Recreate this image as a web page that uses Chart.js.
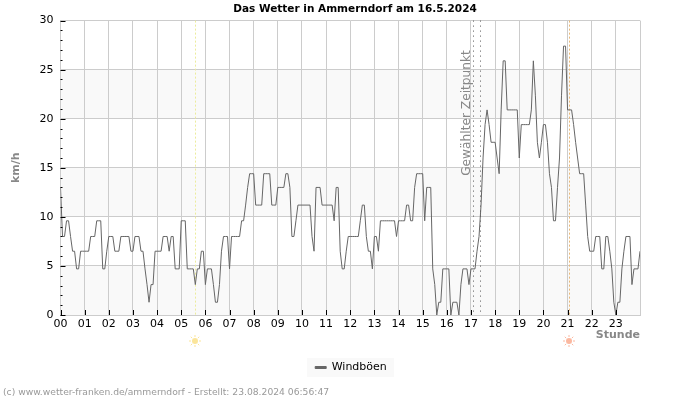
<!DOCTYPE html>
<html>
<head>
<meta charset="utf-8">
<style>
  html, body { margin: 0; padding: 0; background: #fff; }
  #wrap { width: 700px; height: 400px; }
</style>
<script src="https://cdn.jsdelivr.net/npm/chart.js@4"></script>
</head>
<body>
<div id="wrap"><canvas id="chart" width="700" height="400"></canvas></div>
<script>
const hourLabels = ["00","01","02","03","04","05","06","07","08","09","10","11","12","13","14","15","16","17","18","19","20","21","22","23"];
const yTicks = [0, 5, 10, 15, 20, 25, 30];

// gusts in km/h, one value every 5 minutes, one row per hour
const gusts = [
  13, 8, 8, 9.6, 9.6, 8, 6.5, 6.5, 4.7, 4.7, 6.5, 6.5,
  6.5, 6.5, 6.5, 8, 8, 8, 9.6, 9.6, 9.6, 4.7, 4.7, 6.5,
  8, 8, 8, 6.5, 6.5, 6.5, 8, 8, 8, 8, 8, 6.5,
  6.5, 8, 8, 8, 6.5, 6.5, 4.7, 3.1, 1.3, 3.1, 3.1, 6.5,
  6.5, 6.5, 6.5, 8, 8, 8, 6.5, 8, 8, 4.7, 4.7, 4.7,
  9.6, 9.6, 9.6, 4.7, 4.7, 4.7, 4.7, 3.1, 4.7, 4.7, 6.5, 6.5,
  3.1, 4.7, 4.7, 4.7, 3.1, 1.3, 1.3, 3.1, 6.5, 8, 8, 8,
  4.7, 8, 8, 8, 8, 8, 9.6, 9.6, 11.2, 13, 14.4, 14.4,
  14.4, 11.2, 11.2, 11.2, 11.2, 14.4, 14.4, 14.4, 14.4, 11.2, 11.2, 11.2,
  13, 13, 13, 13, 14.4, 14.4, 13, 8, 8, 9.6, 11.2, 11.2,
  11.2, 11.2, 11.2, 11.2, 11.2, 8, 6.5, 13, 13, 13, 11.2, 11.2,
  11.2, 11.2, 11.2, 11.2, 9.6, 13, 13, 6.5, 4.7, 4.7, 6.5, 8,
  8, 8, 8, 8, 8, 9.6, 11.2, 11.2, 8, 6.5, 6.5, 4.7,
  8, 8, 6.5, 9.6, 9.6, 9.6, 9.6, 9.6, 9.6, 9.6, 9.6, 8,
  9.6, 9.6, 9.6, 9.6, 11.2, 11.2, 9.6, 9.6, 13, 14.4, 14.4, 14.4,
  14.4, 9.6, 13, 13, 13, 4.7, 3.1, 0, 1.3, 1.3, 4.7, 4.7,
  4.7, 4.7, 0, 1.3, 1.3, 1.3, 0, 3.1, 4.7, 4.7, 4.7, 3.1,
  4.7, 4.7, 4.7, 6.5, 8, 11.2, 16, 19.4, 20.9, 19.4, 17.6, 17.6,
  17.6, 16, 14.4, 20.9, 25.9, 25.9, 20.9, 20.9, 20.9, 20.9, 20.9, 20.9,
  16, 19.4, 19.4, 19.4, 19.4, 19.4, 20.9, 25.9, 22.4, 17.6, 16, 17.6,
  19.4, 19.4, 17.6, 14.4, 13, 9.6, 9.6, 13, 16, 22.4, 27.4, 27.4,
  20.9, 20.9, 20.9, 19.4, 17.6, 16, 14.4, 14.4, 14.4, 11.2, 8, 6.5,
  6.5, 6.5, 8, 8, 8, 4.7, 4.7, 8, 8, 6.5, 4.7, 1.3,
  0, 1.3, 1.3, 4.7, 6.5, 8, 8, 8, 3.1, 4.7, 4.7, 4.7,
  6.5
];

const sunrise = 5.57;
const sunset = 21.06;
const selectedTimes = [17.1, 17.37];
const shadedBands = [[0, 5], [10, 15], [20, 25]];
const fontName = "'DejaVu Sans'";

function drawSun(ctx, x, y, color) {
  ctx.save();
  ctx.strokeStyle = color;
  ctx.fillStyle = color;
  ctx.lineWidth = 1;
  ctx.beginPath();
  ctx.arc(x, y, 3, 0, Math.PI * 2);
  ctx.fill();
  for (let a = 0; a < 8; a++) {
    let r = a * Math.PI / 4;
    ctx.beginPath();
    ctx.moveTo(x + Math.cos(r) * 4, y + Math.sin(r) * 4);
    ctx.lineTo(x + Math.cos(r) * 6, y + Math.sin(r) * 6);
    ctx.stroke();
  }
  ctx.restore();
}

function vline(ctx, x, top, bottom, color, dash) {
  ctx.save();
  ctx.strokeStyle = color;
  ctx.lineWidth = 1;
  ctx.setLineDash(dash);
  ctx.beginPath();
  ctx.moveTo(Math.round(x) + 0.5, top);
  ctx.lineTo(Math.round(x) + 0.5, bottom);
  ctx.stroke();
  ctx.restore();
}

const backdrop = {
  id: "backdrop",
  afterLayout(chart) {
    // legend row sits a bit too far right because of its big padding
    chart.legend.left -= 8;
  },
  beforeDraw(chart) {
    const { ctx, scales: { y }, chartArea: a } = chart;
    ctx.save();
    ctx.fillStyle = "#f9f9f9";
    ctx.fillRect(307, 358, 87, 19);
    shadedBands.forEach(b => {
      let top = y.getPixelForValue(b[1]);
      ctx.fillRect(a.left, top, a.right - a.left, y.getPixelForValue(b[0]) - top);
    });
    ctx.restore();
  },
  beforeDatasetsDraw(chart) {
    const { ctx, scales: { x }, chartArea: a } = chart;
    vline(ctx, x.getPixelForValue(sunrise), a.top, a.bottom, "#ecec9c", [2, 2]);
    vline(ctx, x.getPixelForValue(sunset), a.top, a.bottom, "#e8b878", [2, 2]);
  },
  afterDatasetsDraw(chart) {
    const { ctx, scales: { x, y }, chartArea: a } = chart;
    selectedTimes.forEach(t => vline(ctx, x.getPixelForValue(t), a.top, a.bottom, "#555", [1, 4]));

    ctx.save();
    ctx.translate(x.getPixelForValue(selectedTimes[0]) - 6.5, 113);
    ctx.rotate(-Math.PI / 2);
    ctx.fillStyle = "#888";
    ctx.font = "12.2px " + fontName;
    ctx.textAlign = "center";
    ctx.textBaseline = "middle";
    ctx.fillText("Gewählter Zeitpunkt", 0, 0);
    ctx.restore();

    // short ticks pointing into the plot
    ctx.save();
    ctx.strokeStyle = "#000";
    ctx.lineWidth = 1;
    ctx.beginPath();
    for (let v = 0; v <= 30; v++) {
      let py = Math.round(y.getPixelForValue(v)) + 0.5;
      ctx.moveTo(a.left, py);
      ctx.lineTo(a.left + (v % 5 === 0 ? 5 : 2), py);
    }
    hourLabels.forEach((h, i) => {
      let px = Math.round(x.getPixelForValue(i)) + 0.5;
      ctx.moveTo(px, a.bottom);
      ctx.lineTo(px, a.bottom - 5);
    });
    ctx.stroke();
    ctx.restore();

    drawSun(ctx, x.getPixelForValue(sunrise), 341, "#fbe59a");
    drawSun(ctx, x.getPixelForValue(sunset), 341, "#fbb8a0");

    ctx.save();
    ctx.fillStyle = "#999";
    ctx.font = "9.2px " + fontName;
    ctx.textBaseline = "middle";
    ctx.fillText("(c) www.wetter-franken.de/ammerndorf - Erstellt: 23.08.2024 06:56:47", 3, 393);
    ctx.restore();
  }
};

new Chart(document.getElementById("chart").getContext("2d"), {
  type: "line",
  data: {
    datasets: [{
      label: "Windböen",
      data: gusts.map((v, i) => ({ x: i / 12, y: v })),
      borderColor: "#666",
      backgroundColor: "#666",
      borderWidth: 1,
      pointRadius: 0,
      tension: 0
    }]
  },
  options: {
    responsive: false,
    animation: false,
    devicePixelRatio: 1,
    layout: { padding: { left: 10, right: 0, top: 0, bottom: 17 } },
    plugins: {
      title: {
        display: true,
        text: "Das Wetter in Ammerndorf am 16.5.2024",
        color: "#000",
        font: { family: fontName, size: 10.5, weight: "bold" },
        padding: { top: 3, bottom: 5 }
      },
      legend: {
        position: "bottom",
        labels: {
          color: "#000",
          font: { family: fontName, size: 11 },
          boxWidth: 11,
          boxHeight: 2,
          padding: 20
        }
      },
      tooltip: { enabled: false }
    },
    scales: {
      x: {
        type: "linear",
        min: 0,
        max: 24,
        afterBuildTicks(axis) { axis.ticks = hourLabels.map((h, i) => ({ value: i })).concat({ value: 24 }); },
        grid: { color: "#ccc", drawTicks: false },
        border: { color: "#ccc" },
        ticks: {
          color: "#000",
          font: { family: fontName, size: 11 },
          padding: 3,
          maxRotation: 0,
          autoSkip: false,
          callback: v => hourLabels[v] || ""
        },
        title: {
          display: true,
          text: "Stunde",
          align: "end",
          color: "#888",
          font: { family: fontName, size: 11, weight: "bold" },
          padding: 0
        },
        afterFit(axis) { axis.height = 27; }
      },
      y: {
        min: 0,
        max: 30,
        afterBuildTicks(axis) { axis.ticks = yTicks.map(v => ({ value: v })); },
        grid: { color: "#ccc", drawTicks: false },
        border: { color: "#ccc" },
        ticks: {
          color: "#000",
          font: { family: fontName, size: 11 },
          padding: 7
        },
        title: {
          display: true,
          text: "km/h",
          color: "#888",
          font: { family: fontName, size: 11, weight: "bold" },
          padding: 0
        },
        afterFit(axis) { axis.width = 50.5; }
      },
      // empty axis, only keeps the plot off the right edge so title and legend stay centred on the page
      spacer: {
        position: "right",
        grid: { display: false },
        border: { display: false },
        ticks: { display: false },
        afterFit(axis) { axis.width = 60; }
      }
    }
  },
  plugins: [backdrop]
});
</script>
</body>
</html>
